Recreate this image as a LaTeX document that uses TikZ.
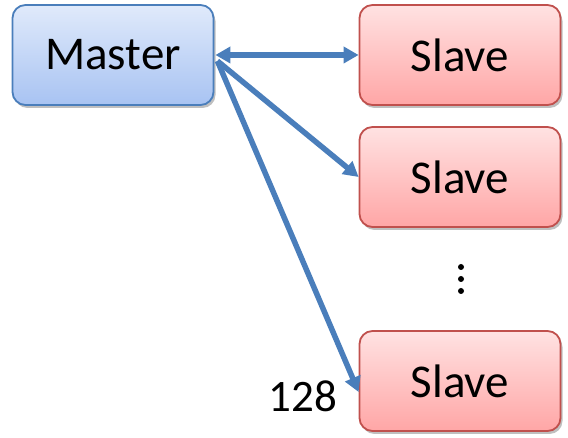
\documentclass[tikz,border=0pt]{standalone}
\usepackage{fontspec}
\setmainfont{Carlito}
\usetikzlibrary{arrows.meta,shadows,calc}
\definecolor{arrowblue}{HTML}{4A7EBB}
\definecolor{mborder}{HTML}{4A7EBB}
\definecolor{mtop}{HTML}{E0EAFB}
\definecolor{mbot}{HTML}{A8C3F2}
\definecolor{sborder}{HTML}{C0504D}
\definecolor{stop}{HTML}{FFE2E2}
\definecolor{sbot}{HTML}{FFA6A6}
\tikzset{
  box/.style={rounded corners=13pt, minimum width=201pt, minimum height=100pt, line width=1.8pt,
    font=\fontsize{47}{50}\selectfont, inner sep=0pt,
    drop shadow={shadow xshift=2pt, shadow yshift=-3pt, opacity=0.25, fill=black}},
  masterbox/.style={box, draw=mborder, top color=mtop, bottom color=mbot},
  slavebox/.style={box, draw=sborder, top color=stop, bottom color=sbot},
  dotnode/.style={circle, fill=black, inner sep=0pt, minimum size=6pt},
  link/.style={draw=arrowblue, line width=5.5pt, -{Triangle[length=15pt,width=16pt]}},
  dlink/.style={link, {Triangle[length=15pt,width=16pt]}-{Triangle[length=15pt,width=16pt]}}
}
\begin{document}
\begin{tikzpicture}[x=1pt,y=1pt]
\useasboundingbox (0,0) rectangle (568,438);
\node[masterbox] (M) at (113,383) {Master};
\node[slavebox] (S1) at (460,383) {Slave};
\node[slavebox] (S2) at (460,261) {Slave};
\node[slavebox] (S3) at (460,57) {Slave};
\node[dotnode] (d1) at (461,171) {};
\node[dotnode] (d2) at (461,159) {};
\node[dotnode] (d3) at (461,147) {};
\node[font=\fontsize{45}{48}\selectfont] (n) at (303,42) {128};
\coordinate (mo) at ($(M.east)+(3,-6)$);
\coordinate (t3) at ($(S3.west)+(0,-11)$);
\draw[dlink] ($(M.east)+(1,0)$) -- (S1.west);
\draw[link] (mo) -- (S2.west);
\draw[link] (mo) -- (t3);
\end{tikzpicture}
\end{document}
